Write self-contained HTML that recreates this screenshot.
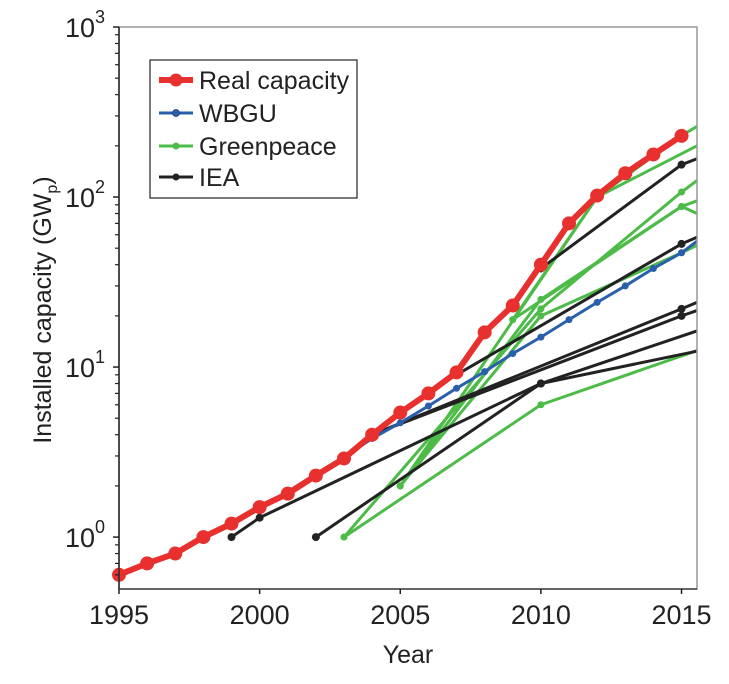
<!DOCTYPE html>
<html><head><meta charset="utf-8"><style>
body{margin:0;background:#fff;width:729px;height:679px;overflow:hidden;font-family:"Liberation Sans",sans-serif}
</style></head><body>
<svg id="chart" width="729" height="679" xmlns="http://www.w3.org/2000/svg" font-family="Liberation Sans, sans-serif">
<g id="grid"></g>
<g id="series"></g>
<g id="axes"></g>
<g id="legend">
<rect x="150" y="60" width="207" height="138" fill="#fff" stroke="#222" stroke-width="1.2"/>
<g><line x1="159" y1="80" x2="193" y2="80" stroke="#e8302e" stroke-width="6"/><circle cx="176" cy="80" r="6.5" fill="#e8302e"/><text x="199" y="89" font-size="25" fill="#222">Real capacity</text></g>
<g><line x1="159" y1="113" x2="193" y2="113" stroke="#2a5fac" stroke-width="3"/><circle cx="176" cy="113" r="3.5" fill="#2a5fac" stroke="#1b3f7a" stroke-width="0.8"/><text x="199" y="122" font-size="25" fill="#222">WBGU</text></g>
<g><line x1="159" y1="146" x2="193" y2="146" stroke="#4cbb47" stroke-width="3"/><circle cx="176" cy="146" r="3.5" fill="#4cbb47"/><text x="199" y="155" font-size="25" fill="#222">Greenpeace</text></g>
<g><line x1="159" y1="177" x2="193" y2="177" stroke="#222" stroke-width="3"/><circle cx="176" cy="177" r="3.5" fill="#222"/><text x="199" y="186" font-size="25" fill="#222">IEA</text></g>
</g>
</svg>
<script>
const realYears=[1995,1996,1997,1998,1999,2000,2001,2002,2003,2004,2005,2006,2007,2008,2009,2010,2011,2012,2013,2014,2015];
const realValues=[0.6,0.7,0.8,1.0,1.2,1.5,1.8,2.3,2.9,4.0,5.4,7.0,9.3,16,23,40,70,102,138,178,229];
const wbguYears=[2000,2001,2002,2003,2004,2005,2006,2007,2008,2009,2010,2011,2012,2013,2014,2015,2015.55];
const wbguValues=[1.5,1.85,2.35,2.95,3.8,4.7,5.9,7.5,9.4,12,15,19,24,30,38,47,55];
const ieaLines=[
 [[1999,1.0],[2000,1.3],[2010,8.0],[2015.55,12.4]],
 [[2002,1.0],[2010,8.0],[2015.55,16.3]],
 [[2004,4.0],[2015,22],[2015.55,24]],
 [[2004,4.0],[2015,20],[2015.55,21.5]],
 [[2007,9.0],[2015,53],[2015.55,58]],
 [[2010,38],[2015,155],[2015.55,168]]
];
const gpLines=[
 [[2003,1.0],[2010,6.0],[2015.55,12.5]],
 [[2003,1.0],[2010,22],[2015,107],[2015.55,125]],
 [[2005,2.0],[2010,25],[2015,88],[2015.55,95]],
 [[2005,2.0],[2010,20],[2015,47],[2015.55,52]],
 [[2009,19],[2012,100],[2015,230],[2015.55,260]],
 [[2005,2.0],[2012,100]],
 [[2012,100],[2015.55,200]],
 [[2009,19],[2015,88],[2015.55,80]]
];
const xTicks=[1995,2000,2005,2010,2015];
const yTickExps=[0,1,2,3];
const X0=119,X1=697,Y0=27,Y1=589;
const xMin=1995,xMax=2015.55,lMin=Math.log10(0.495),lMax=3;
const x=v=>X0+(v-xMin)/(xMax-xMin)*(X1-X0);
const y=v=>Y1-(Math.log10(v)-lMin)/(lMax-lMin)*(Y1-Y0);
const NS="http://www.w3.org/2000/svg";
function mk(tag,attrs,parent){const e=document.createElementNS(NS,tag);for(const k in attrs)e.setAttribute(k,attrs[k]);parent.appendChild(e);return e;}
const S=document.getElementById('series'),A=document.getElementById('axes');
function poly(pts,color,w,r,name){
 const p=mk('polyline',{points:pts.map(q=>x(q[0])+','+y(q[1])).join(' '),fill:'none',stroke:color,'stroke-width':w,'stroke-linejoin':'round'},S);
 
 
 pts.forEach((q,i)=>{if(q[0]>2015.2)return;const c=mk('circle',{cx:x(q[0]),cy:y(q[1]),r:r,fill:color},S);
 
 });
}
gpLines.forEach((l,i)=>poly(l,'#4cbb47',3,3.5,'greenpeace-line-'+i));
ieaLines.forEach((l,i)=>poly(l,'#222',3,4,'iea-line-'+i));
poly(wbguYears.map((v,i)=>[v,wbguValues[i]]),'#2a5fac',3,3.5,'wbgu-line');
poly(realYears.map((v,i)=>[v,realValues[i]]),'#e8302e',6,7,'real-capacity-line');
const fr=mk('rect',{x:X0,y:Y0,width:X1-X0,height:Y1-Y0,fill:'none',stroke:'#999','stroke-width':1.5},A);


mk('line',{x1:X0,y1:Y0,x2:X0,y2:Y1,stroke:'#222','stroke-width':1.5},A);
mk('line',{x1:X0,y1:Y1,x2:X1,y2:Y1,stroke:'#444','stroke-width':1.5},A);
xTicks.forEach(t=>{mk('line',{x1:x(t),y1:Y1,x2:x(t),y2:Y1+5,stroke:'#222','stroke-width':1.5},A);
 const tx=mk('text',{x:x(t),y:Y1+35,'font-size':27,'text-anchor':'middle',fill:'#222'},A);tx.textContent=t;
 
 });
yTickExps.forEach(e=>{const v=Math.pow(10,e);mk('line',{x1:X0-6,y1:y(v),x2:X0,y2:y(v),stroke:'#222','stroke-width':1.5},A);
 const tx=mk('text',{x:X0-14,y:y(v)+10,'font-size':27,'text-anchor':'end',fill:'#222'},A);
 
 
 tx.innerHTML='10<tspan dy="-14" font-size="18">'+e+'</tspan>';
 for(let m=2;m<10;m++){const mv=v*m;if(Math.log10(mv)>lMax)break;mk('line',{x1:X0-4,y1:y(mv),x2:X0,y2:y(mv),stroke:'#222','stroke-width':1.2},A);}
});
[0.6,0.7,0.8,0.9].forEach(mv=>mk('line',{x1:X0-4,y1:y(mv),x2:X0,y2:y(mv),stroke:'#222','stroke-width':1.2},A));
const xl=mk('text',{x:408,y:663,'font-size':25,'text-anchor':'middle',fill:'#222'},A);xl.textContent='Year';


const yl=mk('text',{x:0,y:0,'font-size':25,'text-anchor':'middle',fill:'#222',transform:'translate(51,310) rotate(-90)'},A);


yl.innerHTML='Installed capacity (GW<tspan dy="6" font-size="16">p</tspan><tspan dy="-6">)</tspan>';
</script>
</body></html>
